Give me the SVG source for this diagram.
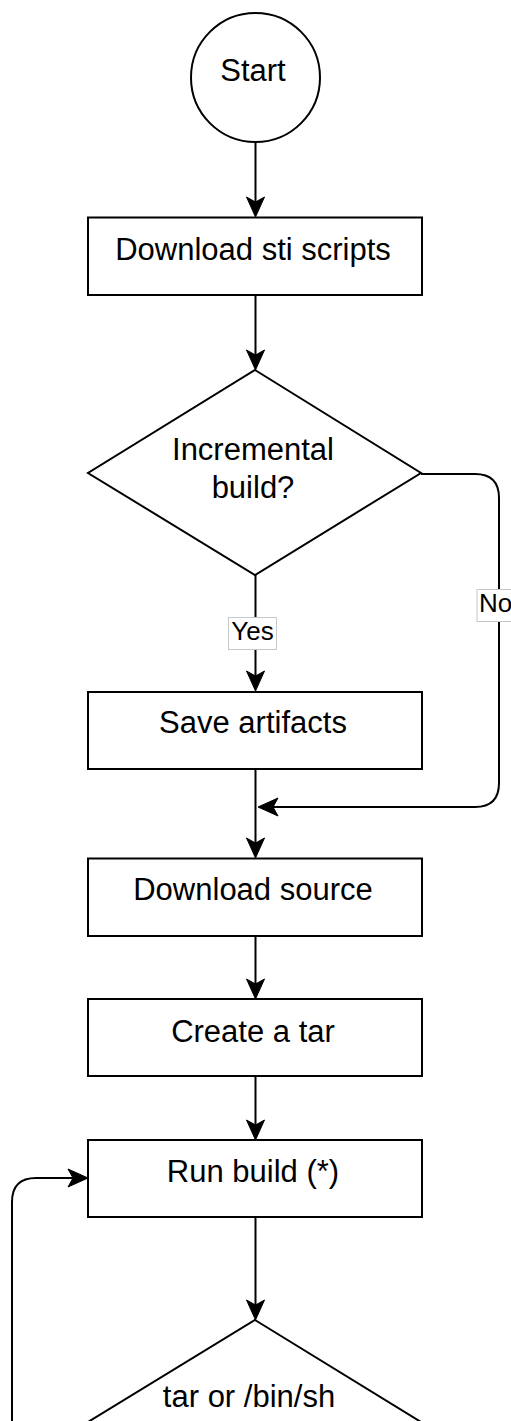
<svg xmlns="http://www.w3.org/2000/svg" width="511" height="1421" viewBox="0 0 511 1421">
<style>
.shape{fill:#fff;stroke:#000;stroke-width:2}
.edge{fill:none;stroke:#000;stroke-width:2}
.t{font-family:"Liberation Sans",Arial,Helvetica,sans-serif;font-size:31px;fill:#000;text-anchor:middle}
.lbl{font-family:"Liberation Sans",Arial,Helvetica,sans-serif;font-size:26px;fill:#000}
.lblbox{fill:#fff;stroke:#c8c8c8;stroke-width:1}
</style>
<defs>
<marker id="arr" markerUnits="userSpaceOnUse" viewBox="-17 -10 24 20" refX="0" refY="0" markerWidth="24" markerHeight="20" orient="auto">
<path d="M5,0 L-15,-9 L-10,0 L-15,9 Z" fill="#000" stroke="#000" stroke-width="1" stroke-linejoin="miter"/>
</marker>
</defs>
<rect width="511" height="1421" fill="#fff"/>
<g id="connectors">
<path class="edge" d="M255.5,142 V212" marker-end="url(#arr)"/>
<path class="edge" d="M255.5,295 V365" marker-end="url(#arr)"/>
<path class="edge" d="M255.5,575 V686" marker-end="url(#arr)"/>
<path class="edge" d="M255.5,769 V853" marker-end="url(#arr)"/>
<path class="edge" d="M421,474 H475 Q499,474 499,498 V783 Q499,807 475,807 H263" marker-end="url(#arr)"/>
<path class="edge" d="M255.5,936 V994" marker-end="url(#arr)"/>
<path class="edge" d="M255.5,1076 V1135" marker-end="url(#arr)"/>
<path class="edge" d="M255.5,1217 V1315" marker-end="url(#arr)"/>
<path class="edge" d="M12,1430 V1202 Q12,1178 36,1178 H83" marker-end="url(#arr)"/>
<path class="edge" d="M421,1422 H475 Q499,1422 499,1446"/>
<g id="label-yes">
<rect class="lblbox" x="228.5" y="617.5" width="48" height="32"/>
<text class="lbl" x="252.5" y="639.5" text-anchor="middle">Yes</text>
</g>
<g id="label-no">
<rect class="lblbox" x="477" y="589.5" width="42" height="32"/>
<text class="lbl" x="479" y="612">No</text>
</g>
</g>
<g id="start">
<circle class="shape" cx="255.5" cy="77.5" r="64.5"/>
<text class="t" x="253" y="81">Start</text>
</g>
<g id="download-sti">
<rect class="shape" x="88" y="217.5" width="334" height="77.5"/>
<text class="t" x="253" y="260">Download sti scripts</text>
</g>
<g id="incremental">
<polygon class="shape" points="255,370 421,473 255,575 88,473"/>
<text class="t" x="253" y="460">Incremental</text>
<text class="t" x="253" y="498">build?</text>
</g>
<g id="save-artifacts">
<rect class="shape" x="88" y="692" width="334" height="77"/>
<text class="t" x="253" y="733">Save artifacts</text>
</g>
<g id="download-source">
<rect class="shape" x="88" y="858.5" width="334" height="77.5"/>
<text class="t" x="253" y="900">Download source</text>
</g>
<g id="create-tar">
<rect class="shape" x="88" y="999" width="334" height="77"/>
<text class="t" x="253" y="1042">Create a tar</text>
</g>
<g id="run-build">
<rect class="shape" x="88" y="1140" width="334" height="77"/>
<text class="t" x="253" y="1182">Run build (*)</text>
</g>
<g id="tar-or-sh">
<polygon class="shape" points="255,1320 421,1422 255,1525 88,1422"/>
<text class="t" x="249" y="1407">tar or /bin/sh</text>
</g>
</svg>
